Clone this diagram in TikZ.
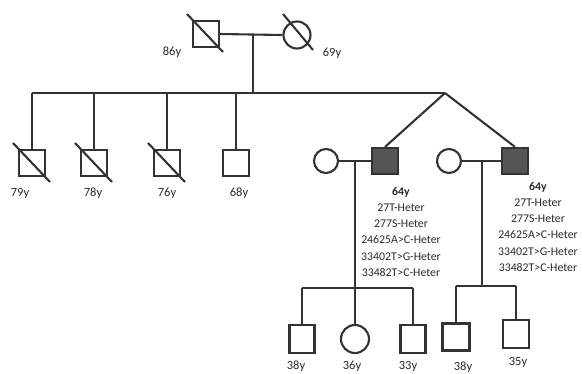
\documentclass[tikz,border=0pt]{standalone}
\usepackage{fontspec}
\setmainfont{Carlito}
\usetikzlibrary{calc}
\definecolor{lc}{HTML}{333333}
\definecolor{af}{HTML}{555555}
\definecolor{tc}{HTML}{2A2A2A}
\begin{document}
\begin{tikzpicture}[x=1pt,y=-1pt,
  ln/.style={draw=lc, line width=2.1pt},
  male/.style={draw=lc, line width=2.1pt, rectangle, minimum width=26pt, minimum height=26pt, inner sep=0pt},
  female/.style={draw=lc, line width=2.1pt, circle, minimum size=26pt, inner sep=0pt},
  aff/.style={male, fill=af},
  lbl/.style={font=\fontsize{12.5}{14}\selectfont, text=tc, inner sep=0pt},
  mut/.style={font=\fontsize{11.8}{16.2}\selectfont, align=center, text=tc, inner sep=0pt},
  dec/.style={draw=lc, line width=2.1pt}]
\useasboundingbox (0,0) rectangle (582,373);

% generation I
\node[male] (gf) at (206,34) {};
\node[female, minimum size=27pt] (gm) at (297,35) {};
\draw[dec] ($(gf)+(-19,-20)$) -- ($(gf)+(17,18)$);
\draw[dec] ($(gm)+(-14,-21)$) -- ($(gm)+(16,15)$);
\node[lbl] (l86) at (172,52) {86y};
\node[lbl] (l69) at (332,53) {69y};
\coordinate (m0) at (253,34);
\coordinate (s0) at (253,93);
\draw[ln] (gf.east) -- (gm.west);
\draw[ln] (m0) -- (s0);

% generation II sibship
\coordinate (sL) at (32,93);
\coordinate (sR) at (445,93);
\draw[ln] (sL) -- (sR);
\node[male] (c1) at (32,163) {};
\node[male] (c2) at (94,163) {};
\node[male] (c3) at (167,163) {};
\node[male] (c4) at (236,163) {};
\foreach \c in {c1,c2,c3,c4} \draw[ln] (\c.north |- sL) -- (\c.north);
\foreach \c in {c1,c2,c3} \draw[dec] ($(\c)+(-19,-20)$) -- ($(\c)+(18,19)$);
\node[lbl] (l79) at (20,193) {79y};
\node[lbl] (l78) at (93,193) {78y};
\node[lbl] (l76) at (167,193) {76y};
\node[lbl] (l68) at (239,193) {68y};

% twins / couples
\node[female, minimum size=24pt] (w1) at (326,161) {};
\node[aff] (b1) at (385,161) {};
\node[female, minimum size=24pt] (w2) at (449,161) {};
\node[aff] (b2) at (515,161) {};
\draw[ln] (sR) -- (b1.north);
\draw[ln] (sR) -- (b2.north);
\draw[ln] (w1.east) -- (b1.west);
\draw[ln] (w2.east) -- (b2.west);

\node[mut, anchor=north] (t1) at (401,187) {\textbf{64y}\\27T-Heter\\277S-Heter\\24625A>C-Heter\\33402T>G-Heter\\33482T>C-Heter};
\node[mut, anchor=north] (t2) at (538,182) {\textbf{64y}\\27T-Heter\\277S-Heter\\24625A>C-Heter\\33402T>G-Heter\\33482T>C-Heter};

% generation III, family 1
\coordinate (d1) at (355,161);
\coordinate (k1) at (355,288);
\coordinate (k1L) at (302,288);
\coordinate (k1R) at (413,288);
\draw[ln] (d1) -- (k1);
\draw[ln] (k1L) -- (k1R);
\node[male, minimum width=25pt, minimum height=28pt] (q1) at (302,339) {};
\node[female, minimum size=28pt] (q2) at (355,339) {};
\node[male, minimum width=25pt, minimum height=28pt] (q3) at (413,339) {};
\foreach \c in {q1,q2,q3} \draw[ln] (\c.north |- k1L) -- (\c.north);
\node[lbl] (l38a) at (296,366) {38y};
\node[lbl] (l36) at (352,366) {36y};
\node[lbl] (l33) at (408,366) {33y};

% generation III, family 2
\coordinate (d2) at (482,161);
\coordinate (k2) at (482,286);
\coordinate (k2L) at (456,286);
\coordinate (k2R) at (516,286);
\draw[ln] (d2) -- (k2);
\draw[ln] (k2L) -- (k2R);
\node[male, minimum width=27pt, minimum height=27pt] (q4) at (456,337) {};
\node[male, minimum width=26pt, minimum height=28pt] (q5) at (516,334) {};
\foreach \c in {q4,q5} \draw[ln] (\c.north |- k2L) -- (\c.north);
\node[lbl] (l38b) at (463,367) {38y};
\node[lbl] (l35) at (518,362) {35y};
\end{tikzpicture}
\end{document}
